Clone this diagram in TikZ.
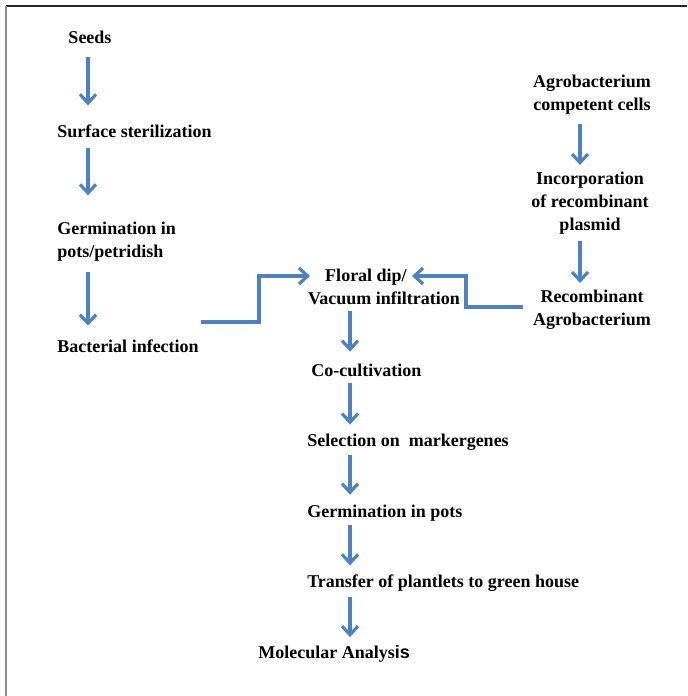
\documentclass[tikz,border=0pt]{standalone}
\usepackage{fontspec}
\setmainfont{Liberation Serif}
\newfontfamily\sansfont{Liberation Sans}
\usepackage{xcolor}
\usetikzlibrary{arrows.meta, positioning}

\definecolor{flowblue}{RGB}{79,129,189}

\begin{document}
\begin{tikzpicture}[
        x=0.75pt, y=-0.75pt,
        stage/.style={font=\fontsize{13.5}{17.25}\selectfont\bfseries, text=black, inner sep=0pt},
        flow/.style={draw=flowblue, line width=2.4pt, -{Straight Barb[length=6.5pt, width=12pt]}},
        frame/.style={line width=1.4pt}
    ]
        \useasboundingbox (0,0) rectangle (687,696);

        % ================= FRAME =================
        \draw[frame, black!85] (6,6) -- (687,6);
        \draw[frame, black!45] (6,6) -- (6,696);

        % ================= NODES =================

        % Plant side
        \node[stage, anchor=base] (seeds) at (90,43) {Seeds};
        \node[stage, anchor=base west] (steril) at (57,137) {Surface sterilization};
        \node[stage, anchor=north west, align=left] (germ) at (57,222) {Germination in\\pots/petridish};
        \node[stage, anchor=base west] (bact) at (57,352) {Bacterial infection};

        % Agrobacterium side
        \node[stage, anchor=north, align=center] (agro) at (592,75) {Agrobacterium\\competent cells};
        \node[stage, anchor=north, align=center] (incorp) at (590,172) {Incorporation\\of recombinant\\plasmid};
        \node[stage, anchor=north, align=center] (recomb) at (592,290) {Recombinant\\Agrobacterium};

        % Transformation steps
        \node[stage, anchor=north, align=center] (floral) at (384,269) {Floral dip/\hspace*{27pt}\\Vacuum infiltration};
        \node[stage, anchor=base west] (cocult) at (311,376) {Co-cultivation};
        \node[stage, anchor=base west] (select) at (307,446) {Selection on~ markergenes};
        \node[stage, anchor=base west] (germpots) at (307,517) {Germination in pots};
        \node[stage, anchor=base west] (transfer) at (307,587) {Transfer of plantlets to green house};
        \node[stage, anchor=base west] (molec) at (258,658) {Molecular Analys{\sansfont is}};

        % Arrow columns
        \coordinate (lcol) at (88,0);
        \coordinate (mcol) at (350,0);
        \coordinate (rcol) at (580,0);

        % ================= ARROWS =================

        % Plant side
        \draw[flow, shorten <=10.5pt, shorten >=14pt] (seeds.south -| lcol) -- (steril.north -| lcol);
        \draw[flow, shorten <=8.25pt, shorten >=20pt] (steril.south -| lcol) -- (germ.north -| lcol);
        \draw[flow, shorten <=7.5pt, shorten >=10pt] (germ.south -| lcol) -- (bact.north -| lcol);

        % Agrobacterium side
        \draw[flow, shorten <=6.5pt, shorten >=5.25pt] (agro.south -| rcol) -- (incorp.north -| rcol);
        \draw[flow, shorten <=4.3pt, shorten >=5.25pt] (incorp.south -| rcol) -- (recomb.north -| rcol);

        % Into the floral dip
        \draw[flow] ([shift={(2,-17)}]bact.north east) -- ++(58,0) |- ([shift={(-74,7)}]floral.north);
        \draw[flow] ([shift={(-10,-3)}]recomb.west) -- ++(-57,0) |- ([shift={(28,7)}]floral.north);

        % Down the middle
        \draw[flow, shorten <=4.2pt, shorten >=8.7pt] (floral.south -| mcol) -- (cocult.north -| mcol);
        \draw[flow, shorten <=5.25pt, shorten >=6.5pt] (cocult.south -| mcol) -- (select.north -| mcol);
        \draw[flow, shorten <=3.8pt, shorten >=7.2pt] (select.south -| mcol) -- (germpots.north -| mcol);
        \draw[flow, shorten <=3pt, shorten >=6.5pt] (germpots.south -| mcol) -- (transfer.north -| mcol);
        \draw[flow, shorten <=4.5pt, shorten >=5.7pt] (transfer.south -| mcol) -- (molec.north -| mcol);

    \end{tikzpicture}
\end{document}
